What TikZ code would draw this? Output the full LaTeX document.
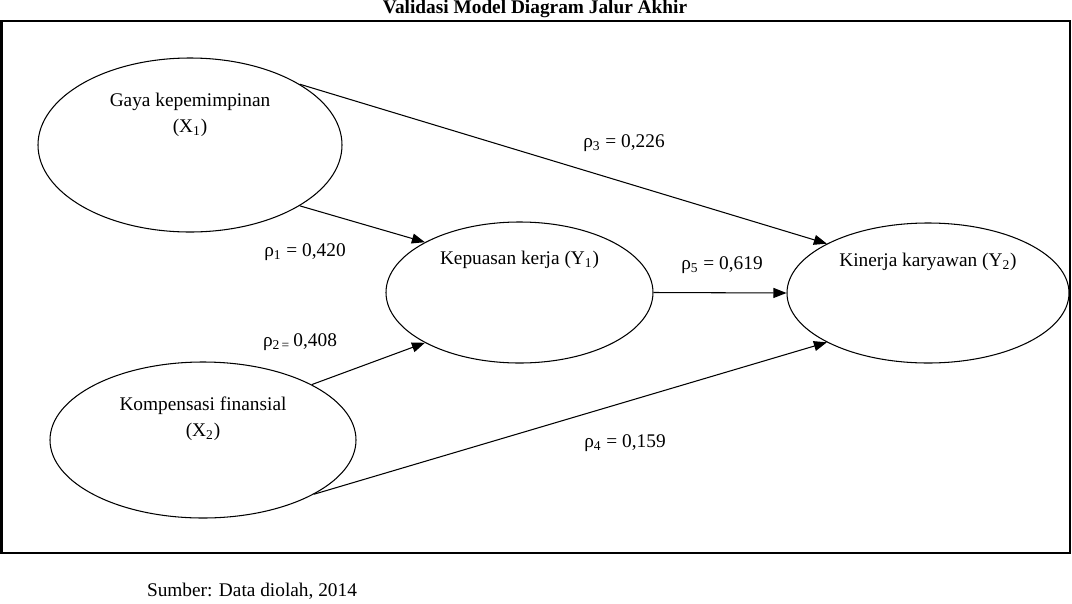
\documentclass[tikz,border=0pt]{standalone}
\usepackage{fontspec}
\setmainfont{Liberation Serif}
\usepackage{tikz}
\usetikzlibrary{arrows.meta, positioning, shapes.geometric}

\begin{document}
\begin{tikzpicture}[
		font=\fontsize{11}{15}\selectfont,
		% gaya elips variabel
		varEllipse/.style={
			ellipse,
			draw=black,
			line width=0.6pt,
			inner sep=0pt
		},
		varText/.style={
			align=center,
			inner sep=1pt
		},
		% gaya panah jalur
		pathArrow/.style={
			-{Triangle[length=0.26cm, width=0.2cm]},
			line width=0.6pt
		},
		coefText/.style={
			inner sep=1pt
		}
		]
		
		\useasboundingbox (0,0) rectangle (21.44,-12.06);
		
		% judul dan bingkai
		\node[font=\fontsize{11}{13}\selectfont\bfseries, anchor=base] (judul) at (10.70,-0.27) {Validasi Model Diagram Jalur Akhir};
		\draw[line width=1.2pt] (0.03,-0.42) rectangle (21.40,-11.06);
		
		% elips X1
		\node[varEllipse, minimum width=6.08cm, minimum height=3.48cm] (x1) at (3.80,-2.90) {};
		\node[varText] (x1t) at ([yshift=0.60cm]x1.center) {Gaya kepemimpinan\\(X\textsubscript{1})};
		
		% elips X2
		\node[varEllipse, minimum width=6.12cm, minimum height=3.12cm] (x2) at (4.06,-8.80) {};
		\node[varText] (x2t) at ([yshift=0.42cm]x2.center) {Kompensasi finansial\\(X\textsubscript{2})};
		
		% elips Y1
		\node[varEllipse, minimum width=5.34cm, minimum height=2.82cm] (y1) at (10.39,-5.85) {};
		\node[varText] (y1t) at ([yshift=0.65cm]y1.center) {Kepuasan kerja (Y\textsubscript{1})};
		
		% elips Y2
		\node[varEllipse, minimum width=5.64cm, minimum height=2.80cm] (y2) at (18.56,-5.86) {};
		\node[varText] (y2t) at ([yshift=0.62cm]y2.center) {Kinerja karyawan (Y\textsubscript{2})};
		
		% jalur
		\draw[pathArrow] (x1.29) -- (y2.154);
		\draw[pathArrow] (x1.-29) -- (y1.152);
		\draw[pathArrow] (x2.27) -- (y1.208);
		\draw[pathArrow] (x2.-26) -- (y2.206);
		\draw[pathArrow] (y1.east) -- (y2.west);
		
		% koefisien jalur
		\node[coefText] (r1) at (6.10,-5.04) {ρ\textsubscript{1} = 0,420};
		\node[coefText] (r2) at (6.00,-6.84) {ρ\textsubscript{2\,=}\,0,408};
		\node[coefText] (r3) at (12.48,-2.86) {ρ\textsubscript{3} = 0,226};
		\node[coefText] (r4) at (12.50,-8.86) {ρ\textsubscript{4} = 0,159};
		\node[coefText] (r5) at (14.44,-5.30) {ρ\textsubscript{5} = 0,619};
		
		% sumber
		\node[coefText] (sumber) at (5.04,-11.82) {Sumber: Data diolah, 2014};
		
	\end{tikzpicture}
\end{document}
